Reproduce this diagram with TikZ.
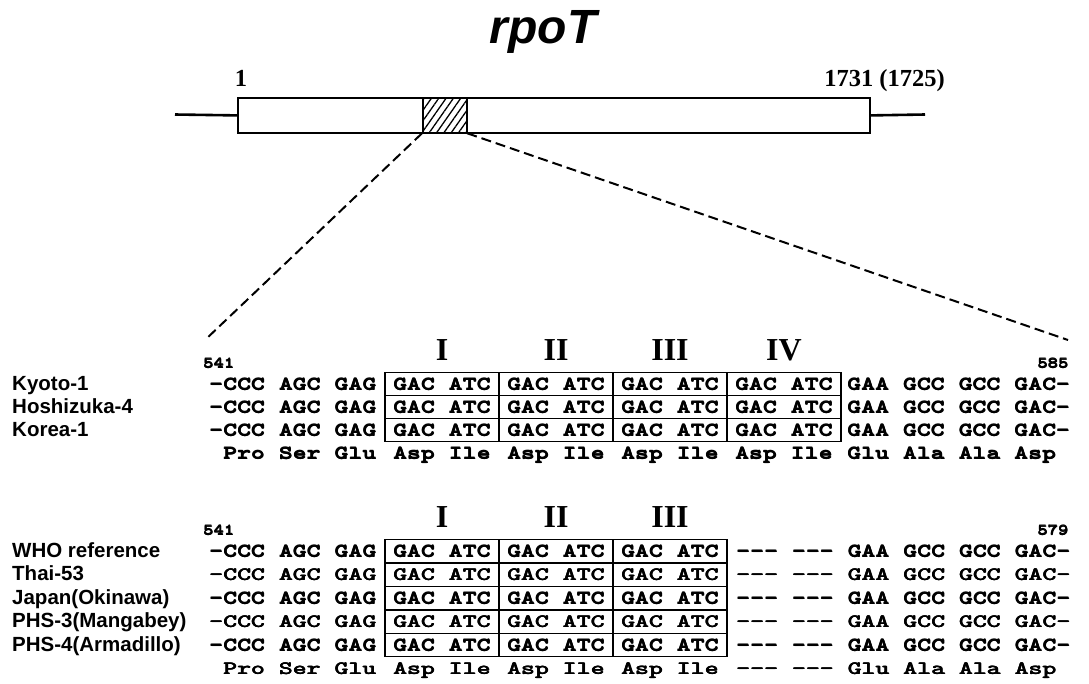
\documentclass[tikz,border=0pt]{standalone}
\usepackage{fontspec}
\usepackage{graphicx}
\usetikzlibrary{patterns.meta}
\newfontfamily\labfont{Liberation Sans}
\newfontfamily\serfont{Liberation Serif}
\newcommand{\thk}[1]{\rlap{#1}\rlap{\raisebox{0.35pt}{#1}}\hspace*{0.35pt}#1}
\newcommand{\sq}[1]{\scalebox{1.41}[1]{\ttfamily\bfseries\fontsize{18.8}{20}\selectfont\thk{#1}}}
\newcommand{\nm}[1]{\scalebox{1.27}[1]{\ttfamily\bfseries\fontsize{15.5}{16}\selectfont\thk{#1}}}
\tikzset{
  lab/.style={anchor=base west, inner sep=0pt, font=\labfont\bfseries\fontsize{20.5}{22}\selectfont},
  seqL/.style={anchor=base west, inner sep=0pt},
  seqR/.style={anchor=base east, inner sep=0pt},
  seqC/.style={anchor=base, inner sep=0pt},
  roman/.style={anchor=base, inner sep=0pt, font=\serfont\bfseries\fontsize{32}{34}\selectfont},
  genenum/.style={inner sep=0pt, font=\serfont\bfseries\fontsize{24.5}{26}\selectfont},
  genebox/.style={draw, line width=1.8pt, inner sep=0pt, anchor=north west, minimum height=35pt},
  flank/.style={line width=2.6pt},
  zoomline/.style={line width=2pt, dash pattern=on 10pt off 5pt},
  gridline/.style={line width=1.5pt}
}
\begin{document}
\begin{tikzpicture}[x=1pt,y=-1pt]
\useasboundingbox (0,0) rectangle (1089,683);
% title
\node[anchor=base, inner sep=0pt, font=\labfont\bfseries\itshape\fontsize{48}{50}\selectfont] (title) at (543,43) {rpoT};
% gene
\node[genebox, minimum width=632pt] (gene) at (237,97) {};
\node[genebox, minimum width=44pt, pattern={Lines[angle=55,distance=6pt,line width=1.3pt]}] (hatch) at (422,97) {};
\coordinate (flankL) at (175,114.5);
\coordinate (flankR) at (925,114.5);
\draw[flank] (flankL) -- (gene.west);
\draw[flank] (gene.east) -- (flankR);
\node[genenum, anchor=base] (n1) at (241,86) {1};
\node[genenum, anchor=base east] (n1731) at (945,86) {1731 (1725)};
\coordinate (zL) at (205,340);
\coordinate (zR) at (1068,340);
\draw[zoomline] (hatch.south west) -- (zL);
\draw[zoomline] (hatch.south east) -- (zR);
% ---------- block 1 ----------
\node[seqL] (p541a) at (203,368) {\nm{541}};
\node[seqR] (p585) at (1069,368) {\nm{585}};
\foreach \r [count=\k] in {I,II,III,IV} {
  \node[roman] (romA\k) at (442+114*\k-114,360) {\r};
}
\draw[gridline] (385,372.5) rectangle (841,441.5);
\draw[gridline] (385,395.5) -- (841,395.5) (385,418.5) -- (841,418.5);
\draw[gridline] (499,372.5) -- (499,441.5) (613,372.5) -- (613,441.5) (727,372.5) -- (727,441.5);
\foreach \lab [count=\i] in {{Kyoto-1},{Hoshizuka-4},{Korea-1}} {
  \pgfmathsetmacro\yb{390+23*(\i-1)}
  \node[lab] (labA\i) at (12,\yb) {\lab};
  \node[seqL] (leftA\i) at (209,\yb) {\sq{-CCC AGC GAG}};
  \foreach \c in {0,1,2,3} {
    \node[seqC] (cellA\i\c) at (442+114*\c,\yb) {\sq{GAC ATC}};
  }
  \node[seqL] (rightA\i) at (847,\yb) {\sq{GAA GCC GCC GAC-}};
}
\node[seqL] (aaLA) at (222.9,459) {\sq{Pro Ser Glu}};
\foreach \c in {0,1,2,3} {
  \node[seqC] (aaCA\c) at (442+114*\c,459) {\sq{Asp Ile}};
}
\node[seqL] (aaRA) at (847,459) {\sq{Glu Ala Ala Asp}};
% ---------- block 2 ----------
\node[seqL] (p541b) at (203,535) {\nm{541}};
\node[seqR] (p579) at (1069,535) {\nm{579}};
\foreach \r [count=\k] in {I,II,III} {
  \node[roman] (romB\k) at (442+114*\k-114,527) {\r};
}
\draw[gridline] (385,539.5) rectangle (727,656.5);
\foreach \yy in {563,586.5,610,633.5} {
  \draw[gridline] (385,\yy) -- (727,\yy);
}
\draw[gridline] (499,539.5) -- (499,656.5) (613,539.5) -- (613,656.5);
\foreach \lab [count=\i] in {{WHO reference},{Thai-53},{Japan(Okinawa)},{PHS-3(Mangabey)},{PHS-4(Armadillo)}} {
  \pgfmathsetmacro\yb{557+23.5*(\i-1)}
  \node[lab] (labB\i) at (12,\yb) {\lab};
  \node[seqL] (leftB\i) at (209,\yb) {\sq{-CCC AGC GAG}};
  \foreach \c in {0,1,2} {
    \node[seqC] (cellB\i\c) at (442+114*\c,\yb) {\sq{GAC ATC}};
  }
  \node[seqL] (rightB\i) at (736,\yb) {\sq{-{}-{}- -{}-{}- GAA GCC GCC GAC-}};
}
\node[seqL] (aaLB) at (222.9,674.5) {\sq{Pro Ser Glu}};
\foreach \c in {0,1,2} {
  \node[seqC] (aaCB\c) at (442+114*\c,674.5) {\sq{Asp Ile}};
}
\node[seqL] (aaRB) at (736,674.5) {\sq{-{}-{}- -{}-{}- Glu Ala Ala Asp}};
\end{tikzpicture}
\end{document}
